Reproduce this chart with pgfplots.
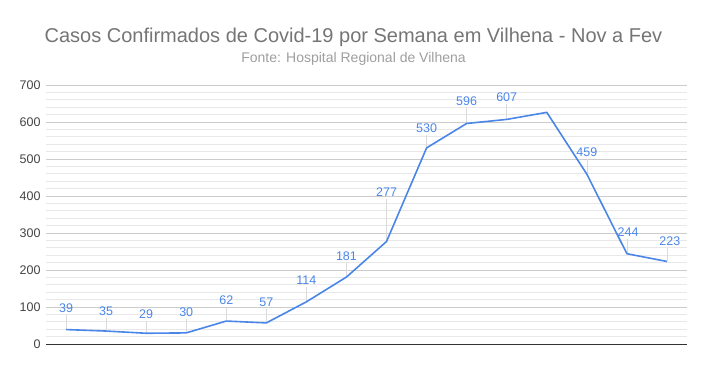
\documentclass[border=0pt]{standalone}
\usepackage{fontspec}
\setmainfont{Liberation Sans}
\usepackage{pgfplots}
\pgfplotsset{compat=1.18}
\definecolor{lineblue}{HTML}{4A86E8}
\definecolor{labblue}{HTML}{4A86E8}
\definecolor{majgrid}{HTML}{CCCCCC}
\definecolor{mingrid}{HTML}{E8E8E8}
\definecolor{leader}{HTML}{DADADA}
\definecolor{titlegrey}{HTML}{757575}
\definecolor{subgrey}{HTML}{9E9E9E}
\definecolor{ticktext}{HTML}{444444}
\begin{document}
\begin{tikzpicture}[x=1pt,y=1pt]
\path[use as bounding box] (0,0) rectangle (707,371);
\node[text=titlegrey,font=\fontsize{20}{22}\selectfont] at (353.5,334) {Casos Confirmados de Covid-19 por Semana em Vilhena - Nov a Fev};
\node[text=subgrey,font=\fontsize{14}{16}\selectfont] at (353.5,312) {Fonte: Hospital Regional de Vilhena};
\begin{axis}[
  at={(46pt,27pt)}, anchor=south west,
  scale only axis, width=641pt, height=259pt,
  xmin=-0.5, xmax=15.5, ymin=0, ymax=700,
  axis x line=none, axis y line*=left, y axis line style={draw=none},
  ytick={0,100,...,700}, minor y tick num=4,
  ymajorgrids, yminorgrids,
  major grid style={majgrid, line width=0.8pt},
  minor grid style={mingrid, line width=0.8pt},
  major tick length=0pt, minor tick length=0pt,
  yticklabel style={text=ticktext, font=\fontsize{12.5}{14}\selectfont, xshift=-2pt},
  /pgf/number format/assume math mode=true,
  clip=false, unbounded coords=jump,
]
\addplot[black!80, line width=0.8pt, forget plot] coordinates {(-0.5,0) (15.5,0)};
\addplot[leader, line width=0.6pt, forget plot] coordinates {
(0,41) (0,78) (0,nan)
(1,37) (1,70) (1,nan)
(2,31) (2,62) (2,nan)
(3,32) (3,67) (3,nan)
(4,64) (4,100) (4,nan)
(5,59) (5,95) (5,nan)
(6,116) (6,154) (6,nan)
(7,183) (7,219) (7,nan)
(8,279) (8,392) (8,nan)
(9,532) (9,565) (9,nan)
(10,598) (10,638) (10,nan)
(11,609) (11,649) (11,nan)
(13,461) (13,500) (13,nan)
(14,246) (14,284) (14,nan)
(15,225) (15,259)
};
\addplot[lineblue, line width=1.6pt, mark=none] coordinates {
(0,39) (1,35) (2,29) (3,30) (4,62) (5,57) (6,114) (7,181) (8,277) (9,530) (10,596) (11,607) (12,626) (13,459) (14,244) (15,223)
};
\addplot[only marks, mark=none, point meta=explicit symbolic,
  nodes near coords, nodes near coords align={center},
  every node near coord/.append style={text=labblue, font=\fontsize{12.5}{14}\selectfont}]
coordinates {
(0,97) [39] (1,89) [35] (2,81) [29] (3,86) [30] (4,119) [62] (5,114) [57] (6,173) [114] (7,238) [181] (8,411) [277] (9,584) [530] (10,657) [596] (11,668) [607] (13,519) [459] (14.03,303) [244] (15.07,278) [223]
};
\end{axis}
\end{tikzpicture}
\end{document}
